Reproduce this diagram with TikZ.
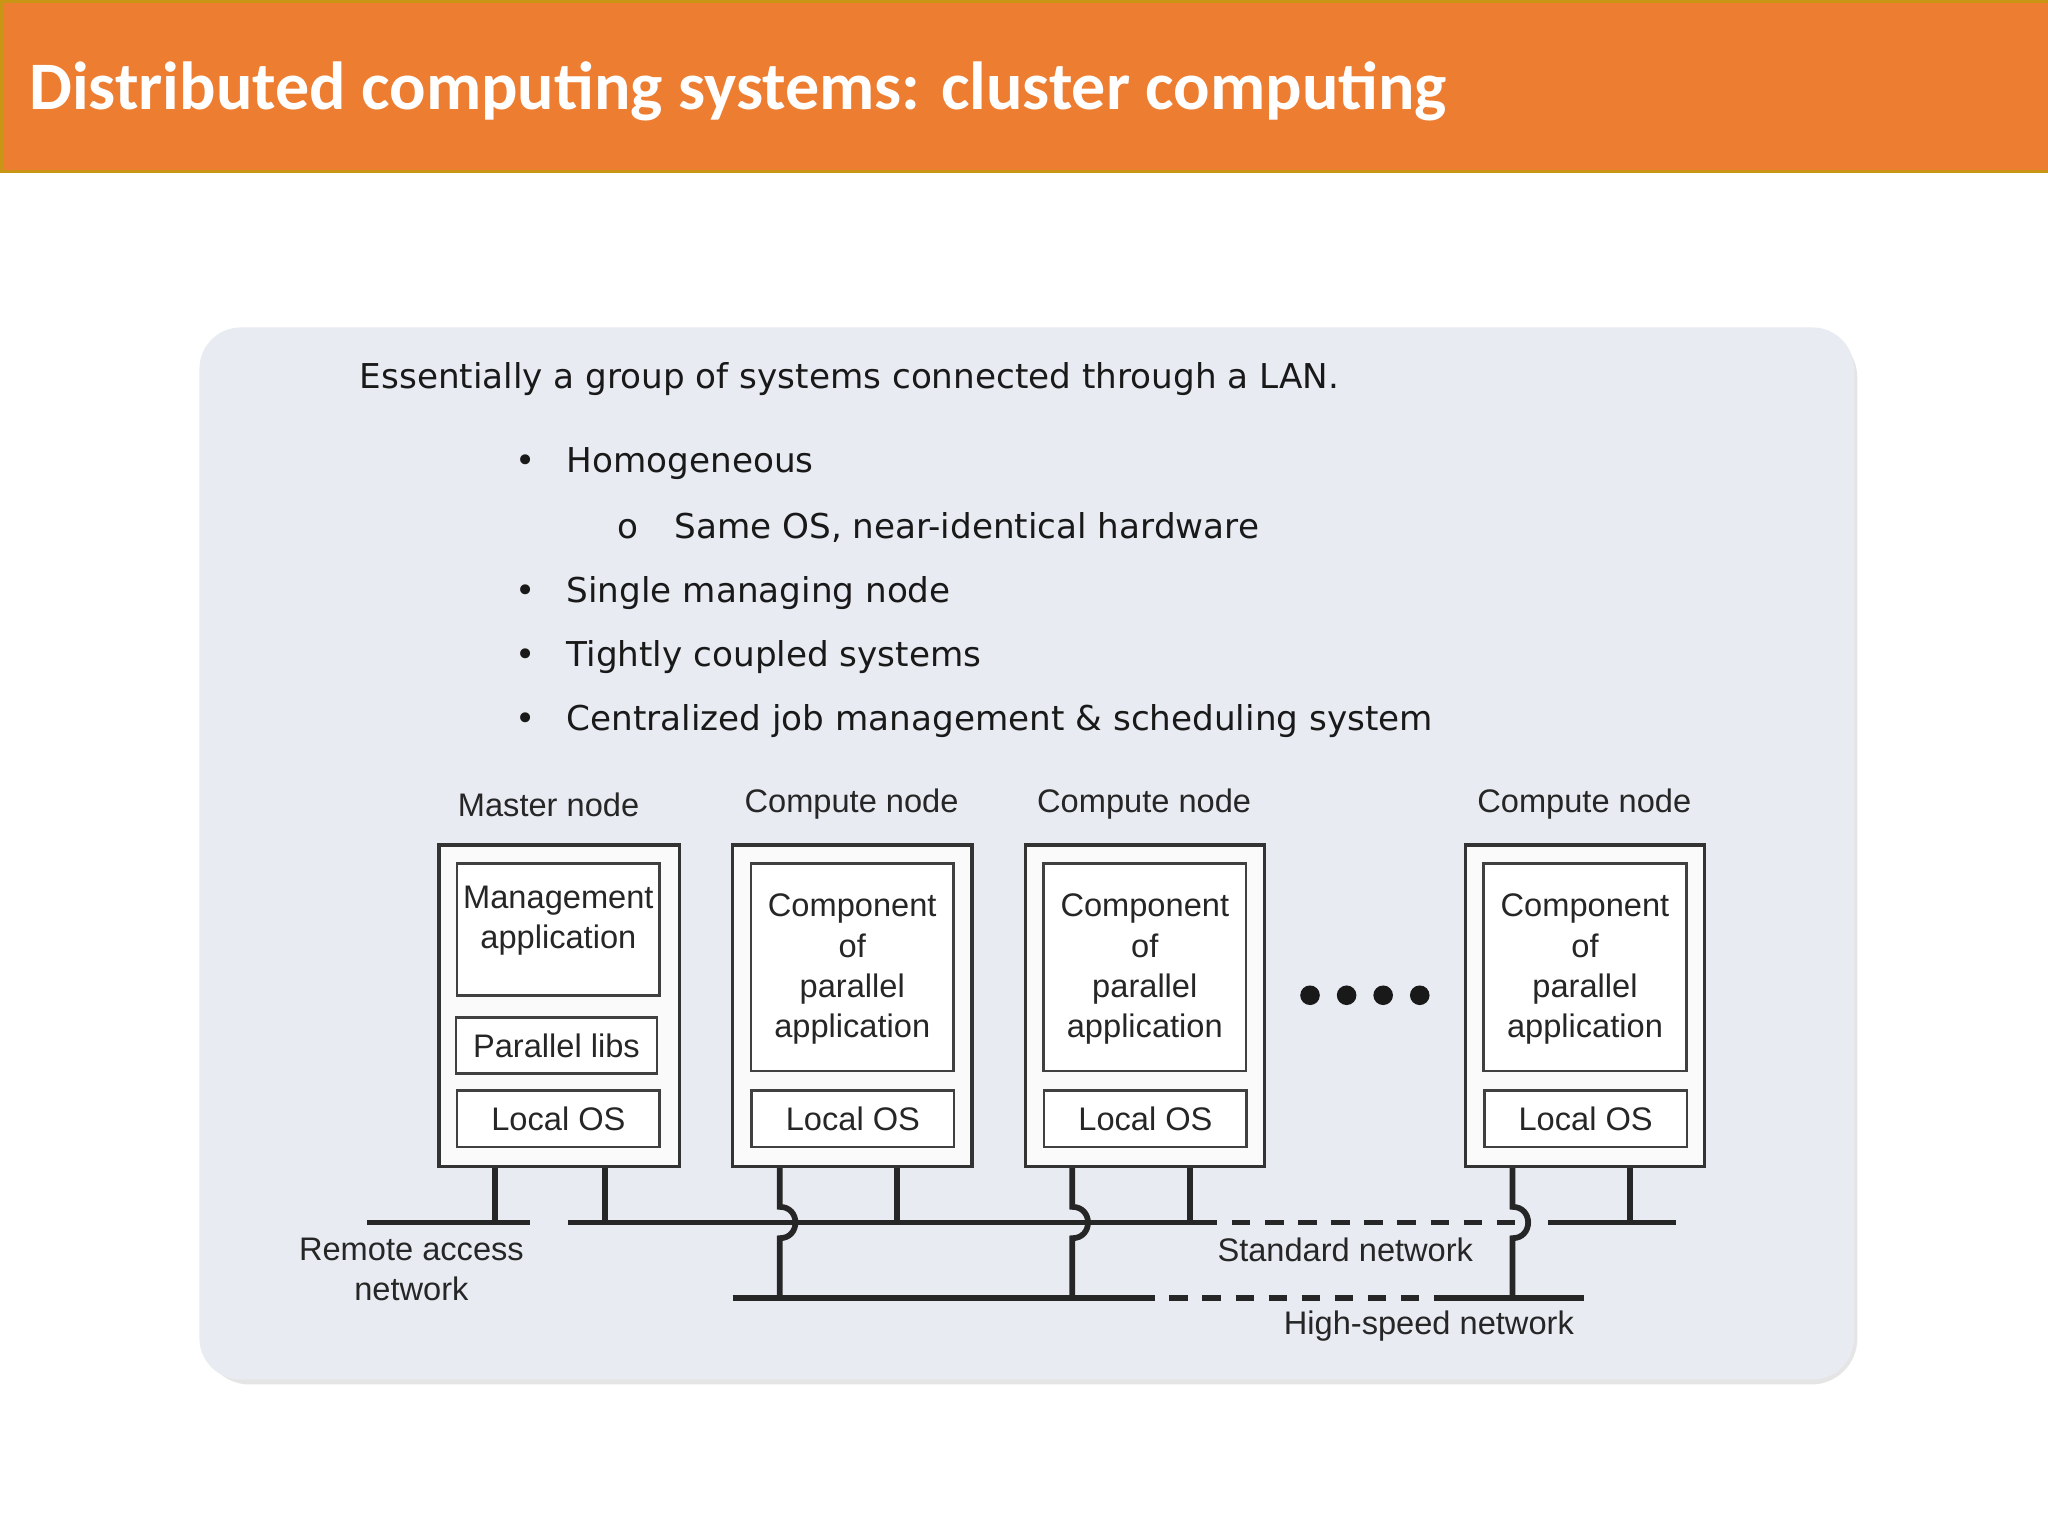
\documentclass[tikz,border=0pt]{standalone}
\usepackage{fontspec}
\setmainfont{Liberation Sans}
\newfontfamily\titlefont{Carlito}
\newfontfamily\bodyfont{DejaVu Sans}
\begin{document}
\begin{tikzpicture}[x=0.01cm,y=-0.01cm,
  box/.style={draw=black!75,line width=0.55pt,fill=white,inner sep=0pt},
  outer/.style={draw=black!80,line width=0.75pt,fill=white!96!gray,inner sep=0pt},
  lab/.style={font=\fontsize{7.1}{8.7}\selectfont,text=black!85,align=center},
  net/.style={line width=1.25pt,black!85},
  dnet/.style={net,dash pattern=on 4pt off 3.2pt},
  bul/.style={font=\bodyfont\fontsize{7.45}{9}\selectfont,text=black!90,anchor=west}]
\useasboundingbox (0,0) rectangle (1568,1176);
\fill[white] (0,0) rectangle (1568,1176);
\node[fill={rgb,255:red,237;green,125;blue,49},draw={rgb,255:red,200;green,150;blue,20},line width=0.6pt,minimum width=15.68cm,minimum height=1.3cm,anchor=north west,inner sep=0pt] (bar) at (0,0) {};
\node[anchor=west,text=white,font=\titlefont\bfseries\fontsize{14.8}{18}\selectfont] (title) at (10,70) {Distributed computing systems: cluster computing};
\fill[black!10,rounded corners=10pt] (156,254) rectangle (1422,1060);
\node[fill={rgb,255:red,233;green,235;blue,243},rounded corners=9pt,minimum width=12.66cm,minimum height=8.05cm,anchor=north west,inner sep=0pt] (panel) at (152,250) {};
\node[bul] (t0) at (263,290) {Essentially a group of systems connected through a LAN.};
\node[bul] (b1) at (382,355) {\textbullet\hspace{2.4mm}Homogeneous};
\node[bul] (b2) at (460,404) {o\hspace{2.8mm}Same OS, near-identical hardware};
\node[bul] (b3) at (382,454) {\textbullet\hspace{2.4mm}Single managing node};
\node[bul] (b4) at (382,503) {\textbullet\hspace{2.4mm}Tightly coupled systems};
\node[bul] (b5) at (382,552) {\textbullet\hspace{2.4mm}Centralized job management \& scheduling system};
% labels
\node[lab] (lm) at (420,616) {Master node};
\node[lab] (l1) at (652,616) {Compute node};
\node[lab] (l2) at (876,616) {Compute node};
\node[lab] (l3) at (1213,616) {Compute node};
% master
\node[outer,minimum width=1.84cm,minimum height=2.46cm] (m) at (428,770) {};
\node[box,minimum width=1.55cm,minimum height=1.01cm] (ma) at (427.5,711.5) {};
\node[lab] at (427.5,705) {Management\\application};
\node[box,minimum width=1.54cm,minimum height=0.43cm,lab] (pl) at (426,800.5) {Parallel libs};
\node[box,minimum width=1.55cm,minimum height=0.43cm,lab] (mo) at (427.5,856.5) {Local OS};
% compute nodes
\foreach \n/\cx in {c1/652.5,c2/876.5,c3/1213.5}{
  \node[outer,minimum width=1.83cm,minimum height=2.46cm] (\n) at (\cx,770) {};
  \node[box,minimum width=1.55cm,minimum height=1.59cm] (\n a) at (\cx,740.5) {};
  \node[lab,font=\fontsize{7.1}{8.75}\selectfont] at (\cx,742) {Component\\of\\parallel\\application};
  \node[box,minimum width=1.55cm,minimum height=0.43cm,lab] (\n o) at (\cx+0.5,856.5) {Local OS};
}
% dots
\foreach \x in {1003,1031,1059,1087} \fill[black!90] (\x,762) circle (7.5);
% networks
\coordinate (r1) at (281,936); \coordinate (r2) at (406,936);
\coordinate (s1) at (435,936); \coordinate (s2) at (918,936);
\coordinate (s3) at (1160,936); \coordinate (s4) at (1185,936); \coordinate (s5) at (1283,936);
\coordinate (h1) at (561,994); \coordinate (h2) at (870,994);
\coordinate (h3) at (1105,994); \coordinate (h4) at (1213,994);
\draw[net] (r1) -- (r2);
\draw[net] (s1) -- (s2);
\draw[dnet] (s2) -- (s3);
\draw[net] (s4) -- (s5);
\draw[net] (h1) -- (h2);
\draw[dnet] (h2) -- (h3);
\draw[net] (h3) -- (h4);
% drops
\coordinate (xa) at (379,0); \coordinate (xb) at (463,0);
\draw[net] (m.south -| xa) -- (379,936);
\draw[net] (m.south -| xb) -- (463,936);
\foreach \n/\x/\y in {c1/597/687,c2/821/911,c3/1158/1248}{
  \coordinate (px) at (\x,0); \coordinate (py) at (\y,0);
  \draw[net] (\n.south -| px) -- (\x,924) .. controls (\x+16,924) and (\x+16,948) .. (\x,948) -- (\x,994);
  \draw[net] (\n.south -| py) -- (\y,936);
}
\node[lab] (rl) at (315,972) {Remote access\\network};
\node[lab] (sl) at (1030,957) {Standard network};
\node[lab] (hl) at (1094,1015) {High-speed network};
\end{tikzpicture}
\end{document}
